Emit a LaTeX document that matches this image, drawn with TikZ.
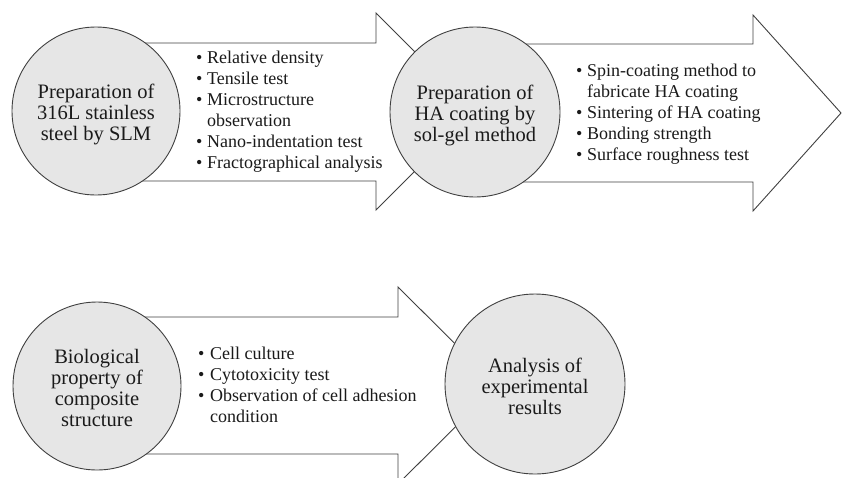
\documentclass[tikz,border=0pt]{standalone}
\usepackage{fontspec}
\setmainfont{Liberation Serif}
\usepackage{array}
\definecolor{circfill}{HTML}{E6E6E6}
\definecolor{edgecol}{HTML}{404040}
\definecolor{txtcol}{HTML}{1A1A1A}
\newcommand{\blist}[2]{\begin{tabular}[t]{@{}p{#1}@{}l@{}}#2\end{tabular}}
\begin{document}
\begin{tikzpicture}[x=1pt,y=-1pt,
  stage/.style={circle,draw=edgecol,line width=0.9pt,fill=circfill,inner sep=0pt},
  stagetext/.style={align=center,text=txtcol,font=\fontsize{20.5}{21}\selectfont,inner sep=0pt},
  bigarrow/.style={draw=edgecol,line width=0.9pt,fill=white,line join=miter},
  items/.style={anchor=base west,inner sep=0pt,text=txtcol,font=\fontsize{18}{21}\selectfont}]
\useasboundingbox (0,0) rectangle (842,477);
% arrows (drawn first, circles overlap them)
\draw[bigarrow] (96,43) -- (376,43) -- (376,13) -- (474.5,111.5) -- (376,210) -- (376,181) -- (96,181) -- cycle;
\draw[bigarrow] (475,44) -- (753,44) -- (753,15) -- (841,113) -- (753,211) -- (753,182) -- (475,182) -- cycle;
\draw[bigarrow] (97,317) -- (398,317) -- (398,287) -- (497,385.5) -- (398,484) -- (398,454) -- (97,454) -- cycle;
% stages
\node[stage,minimum size=168pt] (s1) at (96,111) {};
\node[stage,minimum size=170pt] (s2) at (475,112) {};
\node[stage,minimum size=168pt] (s3) at (97,386) {};
\node[stage,minimum size=180pt] (s4) at (535,384) {};
\node[stagetext] (t1) at ([yshift=-3pt]s1.center) {Preparation of\\316L stainless\\steel by SLM};
\node[stagetext] (t2) at ([yshift=-3pt]s2.center) {Preparation of\\HA coating by\\sol-gel method};
\node[stagetext] (t3) at ([yshift=-2pt]s3.center) {Biological\\property of\\composite\\structure};
\node[stagetext] (t4) at ([yshift=-2pt]s4.center) {Analysis of\\experimental\\results};
% bullet lists
\node[items] (l1) at (196,63) {\blist{11pt}{%
  •&Relative density\\
  •&Tensile test\\
  •&Microstructure\\
   &observation\\
  •&Nano-indentation test\\
  •&Fractographical analysis}};
\node[items] (l2) at (576,76) {\blist{11pt}{%
  •&Spin-coating method to\\
   &fabricate HA coating\\
  •&Sintering of HA coating\\
  •&Bonding strength\\
  •&Surface roughness test}};
\node[items] (l3) at (198,359) {\blist{12pt}{%
  •&Cell culture\\
  •&Cytotoxicity test\\
  •&Observation of cell adhesion\\
   &condition}};
\end{tikzpicture}
\end{document}
